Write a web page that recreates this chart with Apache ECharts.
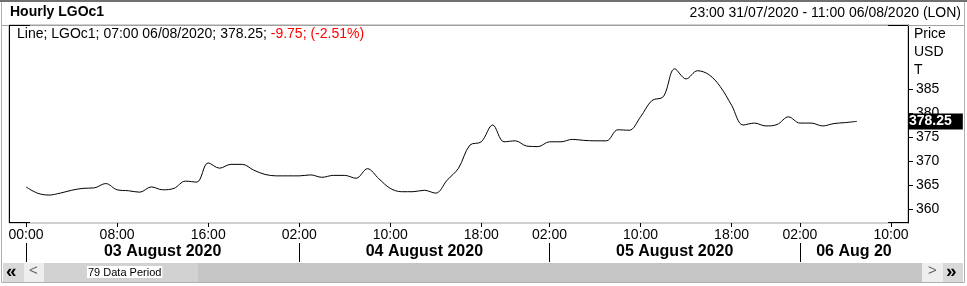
<!DOCTYPE html>
<html>
<head>
<meta charset="utf-8">
<script src="https://cdn.jsdelivr.net/npm/echarts@6/dist/echarts.min.js"></script>
<style>
html,body{margin:0;padding:0;background:#fff;}
#chart{width:967px;height:286px;}
</style>
</head>
<body>
<div id="chart"></div>
<script>
// ---- data ----
const sessionDates = ['31/07/2020', '03/08/2020', '04/08/2020', '05/08/2020', '06/08/2020'];
const sessionFirstHour = [23, 0, 1, 1, 1];
const sessionLastHour = [23, 22, 22, 22, 11];

// hourly LGOc1 closes from 00:00 03/08/2020 to 07:00 06/08/2020
const prices = [
  364.6, 363.3, 362.9, 363.3, 363.9, 364.3, 364.4, 365.3, 364.0, 363.8,
  363.5, 364.6, 364.0, 364.3, 365.8, 365.6, 369.6, 368.5, 369.3, 369.3,
  368.1, 367.2, 366.9, 366.9, 366.9, 367.1, 366.6, 367.0, 367.0, 366.4,
  368.4, 366.3, 364.3, 363.6, 363.6, 363.9, 363.3, 366.0, 368.5, 373.3,
  374.0, 377.5, 374.0, 374.2, 373.1, 373.0, 374.0, 374.0, 374.5, 374.3,
  374.2, 374.2, 376.5, 376.4, 379.2, 382.6, 383.4, 389.2, 387.1, 388.8,
  388.0, 385.5, 381.6, 377.5, 377.9, 377.3, 377.6, 379.2, 377.9, 377.9,
  377.3, 377.8, 378.0, 378.25
];
const firstPriceCategory = '03/08/2020 00:00';

const xTickLabels = [
  '03/08/2020 00:00', '03/08/2020 08:00', '03/08/2020 16:00',
  '04/08/2020 02:00', '04/08/2020 10:00', '04/08/2020 18:00',
  '05/08/2020 02:00', '05/08/2020 10:00', '05/08/2020 18:00',
  '06/08/2020 02:00', '06/08/2020 10:00'
];
const dayLabels = ['03 August 2020', '04 August 2020', '05 August 2020', '06 Aug 20'];
const yTicks = [360, 365, 370, 375, 380, 385];

const titleText = 'Hourly LGOc1';
const rangeText = '23:00 31/07/2020 - 11:00 06/08/2020 (LON)';
const legendText = 'Line; LGOc1; 07:00 06/08/2020; 378.25; ';
const changeText = '-9.75; (-2.51%)';
const unitLines = ['Price', 'USD', 'T'];
const periodText = '79 Data Period';
const lastPriceText = '378.25';

// ---- build ----
const pad = n => (n < 10 ? '0' : '') + n;
const categories = [];
sessionDates.forEach((d, i) => {
  for (let h = sessionFirstHour[i]; h <= sessionLastHour[i]; h++) categories.push(d + ' ' + pad(h) + ':00');
});
const startIdx = categories.indexOf(firstPriceCategory);
const seriesData = categories.map((c, i) => {
  const k = i - startIdx;
  return (k >= 0 && k < prices.length) ? prices[k] : '-';
});
const tickSet = new Set(xTickLabels);
// day separators: first labelled tick of each day
const sepIdx = [];
const seenDays = new Set();
xTickLabels.forEach(t => {
  const d = t.split(' ')[0];
  if (!seenDays.has(d)) { seenDays.add(d); sepIdx.push(categories.indexOf(t)); }
});
const axisEnd = categories.length - 0.5;
const dayMid = sepIdx.map((s, i) => (s + (i + 1 < sepIdx.length ? sepIdx[i + 1] : axisEnd)) / 2);

const FONT = "'Liberation Sans', Arial, sans-serif";
const GL = 9, GR = 908, GT = 25, GB = 223;
const yMin = 357.08, yMax = 398.33;

const chart = echarts.init(document.getElementById('chart'), null, {renderer: 'canvas'});
const lineSeg = (x1, y1, x2, y2, c, w) => ({type: 'line', shape: {x1, y1, x2, y2}, style: {stroke: c, lineWidth: w || 1}, silent: true, z: 10});
const rect = (x, y, w, h, fill) => ({type: 'rect', shape: {x, y, width: w, height: h}, style: {fill}, silent: true});

chart.setOption({
  animation: false,
  backgroundColor: '#fff',
  textStyle: {fontFamily: FONT},
  title: [
    {text: titleText, left: 10, top: 5, padding: 0, textStyle: {fontFamily: FONT, fontSize: 14, fontWeight: 'bold', color: '#000'}},
    {text: rangeText, right: 6, top: 6, padding: 0, textStyle: {fontFamily: FONT, fontSize: 14, fontWeight: 'normal', color: '#000'}},
    {text: legendText + '{r|' + changeText + '}', left: 17, top: 27, padding: 0,
     textStyle: {fontFamily: FONT, fontSize: 14, fontWeight: 'normal', color: '#000', rich: {r: {fontFamily: FONT, fontSize: 14, color: '#ff0000'}}}},
    {text: unitLines.join('\n'), left: 914, top: 25, padding: 0, textStyle: {fontFamily: FONT, fontSize: 14, fontWeight: 'normal', color: '#000', lineHeight: 18}}
  ],
  grid: {left: GL, right: 967 - GR, top: GT, bottom: 286 - GB, show: true, borderColor: '#a0a0a0', borderWidth: 1, backgroundColor: '#fff'},
  xAxis: [
    {
      type: 'category', data: categories, boundaryGap: true, position: 'bottom',
      axisLine: {show: false, onZero: false},
      axisTick: {show: true, alignWithLabel: true, length: 4, interval: (i, v) => tickSet.has(v), lineStyle: {color: '#000'}},
      axisLabel: {interval: (i, v) => tickSet.has(v), formatter: v => v.split(' ')[1], margin: 5,
        fontFamily: FONT, fontSize: 14, color: '#000'},
      splitLine: {show: false}
    },
    {
      type: 'value', min: -0.5, max: axisEnd, position: 'bottom', offset: 20,
      axisLine: {show: false, onZero: false},
      axisTick: {show: true, customValues: sepIdx, length: 19, lineStyle: {color: '#000'}},
      axisLabel: {customValues: dayMid, formatter: v => dayLabels[dayMid.indexOf(v)] || '', margin: 1,
        fontFamily: FONT, fontSize: 16, fontWeight: 'bold', color: '#000'},
      splitLine: {show: false}
    }
  ],
  yAxis: [
    {
      type: 'value', position: 'right', min: yMin, max: yMax,
      axisLine: {show: true, onZero: false, lineStyle: {color: '#000'}},
      axisTick: {show: true, inside: false, customValues: yTicks, length: 5, lineStyle: {color: '#000'}},
      axisLabel: {customValues: yTicks, margin: 8, fontFamily: FONT, fontSize: 14, color: '#000'},
      splitLine: {show: false}
    }
  ],
  series: [{
    type: 'line', data: seriesData, xAxisIndex: 0, yAxisIndex: 0,
    smooth: 0.35, showSymbol: false, symbol: 'none', connectNulls: false,
    lineStyle: {color: '#000', width: 1}, z: 3,
    markLine: {
      silent: true, symbol: ['none', 'none'], animation: false,
      lineStyle: {color: 'rgba(0,0,0,0)', width: 1, type: 'solid'},
      label: {show: true, position: 'end', distance: 0, formatter: lastPriceText,
        backgroundColor: '#000', color: '#fff', fontFamily: FONT, fontSize: 14, fontWeight: 'bold',
        padding: [1, 11, 1, 1]},
      data: [{yAxis: prices[prices.length - 1]}]
    }
  }],
  graphic: [
    // outer frame
    {type: 'rect', shape: {x: 1.5, y: 1.5, width: 963, height: 281}, style: {fill: 'none', stroke: '#b0b0b0', lineWidth: 1}, silent: true, z: -1},
    lineSeg(0, 1, 967, 1, '#707070', 2),
    lineSeg(2, 25.5, 964, 25.5, '#a0a0a0', 1),
    // left plot border
    lineSeg(GL + 0.5, GT, GL + 0.5, GB, '#000'),
    // black corner marks
    lineSeg(GL, GT + 0.5, GL + 21, GT + 0.5, '#000'),
    lineSeg(GR - 20, GT + 0.5, GR, GT + 0.5, '#000'),
    lineSeg(GL, GB - 0.5, GL + 21, GB - 0.5, '#000'),
    lineSeg(GR - 20, GB - 0.5, GR, GB - 0.5, '#000'),
    // scroll bar
    rect(3, 263, 21, 19, '#d9d9d9'),
    rect(24, 263, 20, 19, '#eeeeee'),
    rect(44, 263, 154, 19, '#d2d2d2'),
    rect(198, 263, 724, 19, '#c6c6c6'),
    rect(922, 263, 21, 19, '#eeeeee'),
    rect(943, 263, 20, 19, '#d9d9d9'),
    {type: 'text', left: 6, top: 262, silent: true, style: {text: '«', font: 'bold 19px ' + FONT, fill: '#000'}},
    {type: 'text', left: 29, top: 263, silent: true, style: {text: '<', font: '15px ' + FONT, fill: '#666'}},
    {type: 'text', left: 928, top: 263, silent: true, style: {text: '>', font: '15px ' + FONT, fill: '#666'}},
    {type: 'text', left: 946, top: 262, silent: true, style: {text: '»', font: 'bold 19px ' + FONT, fill: '#000'}},
    {type: 'text', left: 87, top: 266, silent: true, style: {text: periodText, font: '11px ' + FONT, fill: '#000', backgroundColor: '#fff', padding: [1, 1, 0, 1]}}
  ]
});
</script>
</body>
</html>
